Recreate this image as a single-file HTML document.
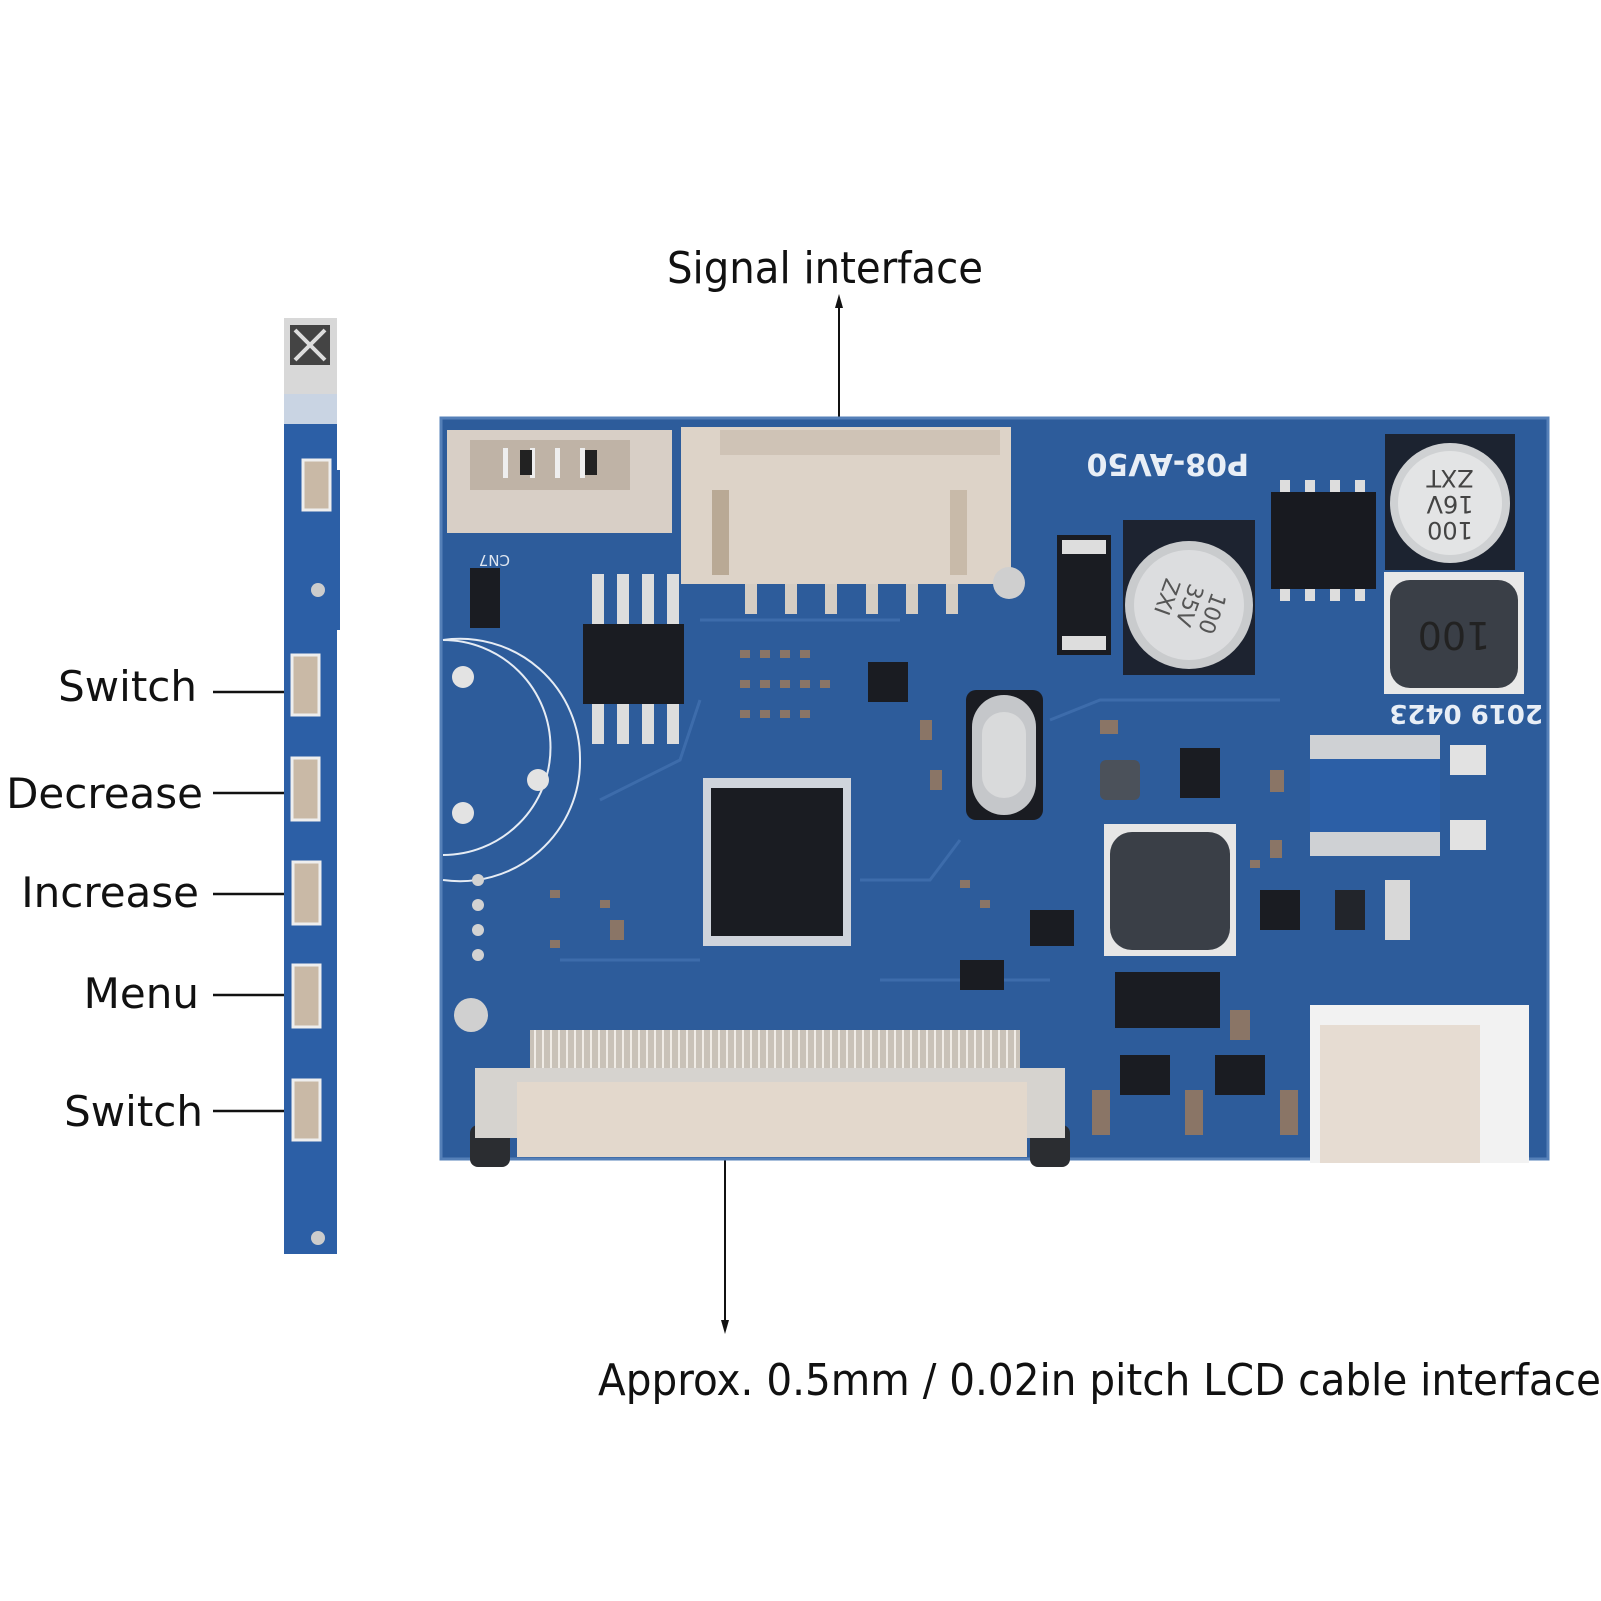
<!DOCTYPE html>
<html><head><meta charset="utf-8"><style>
html,body{margin:0;padding:0;background:#fff;}
svg{display:block;}
text{font-family:"DejaVu Sans","Liberation Sans",sans-serif;}
</style></head><body>
<svg width="1601" height="1601" viewBox="0 0 1601 1601" xmlns="http://www.w3.org/2000/svg">
<rect width="1601" height="1601" fill="#fff"/>

<!-- Labels -->
<text x="667" y="283" font-size="44" fill="#111" textLength="316" lengthAdjust="spacingAndGlyphs">Signal interface</text>
<line x1="839" y1="300" x2="839" y2="546" stroke="#111" stroke-width="2"/>
<polygon points="839,294 835,308 843,308" fill="#111"/>

<line x1="725" y1="1128" x2="725" y2="1326" stroke="#111" stroke-width="2"/>
<polygon points="725,1334 721,1320 729,1320" fill="#111"/>
<text x="598" y="1395" font-size="44" fill="#111" textLength="1003" lengthAdjust="spacingAndGlyphs">Approx. 0.5mm / 0.02in pitch LCD cable interface</text>

<g font-size="42" fill="#111" text-anchor="end">
<text x="197" y="701">Switch</text>
<text x="203" y="808">Decrease</text>
<text x="199" y="907">Increase</text>
<text x="199" y="1008">Menu</text>
<text x="203" y="1126">Switch</text>
</g>
<g stroke="#111" stroke-width="2.5">
<line x1="213" y1="692" x2="284" y2="692"/>
<line x1="213" y1="793" x2="284" y2="793"/>
<line x1="213" y1="894" x2="284" y2="894"/>
<line x1="213" y1="995" x2="284" y2="995"/>
<line x1="213" y1="1111" x2="284" y2="1111"/>
</g>

<!-- Key strip -->
<rect x="284" y="318" width="53" height="76" fill="#d8d8d8"/>
<rect x="290" y="325" width="40" height="40" fill="#444"/>
<path d="M295 330 L325 360 M325 330 L295 360" stroke="#ddd" stroke-width="4"/>
<rect x="284" y="394" width="53" height="30" fill="#c9d4e3"/>
<rect x="284" y="424" width="53" height="830" fill="#2c5fa6"/>
<rect x="330" y="470" width="10" height="160" fill="#2c5fa6"/>
<circle cx="318" cy="590" r="7" fill="#ccc"/>
<circle cx="318" cy="1238" r="7" fill="#ccc"/>
<g fill="#c9b9a6" stroke="#eee" stroke-width="3">
<rect x="303" y="460" width="27" height="50"/>
<rect x="292" y="655" width="27" height="60"/>
<rect x="292" y="758" width="27" height="62"/>
<rect x="293" y="862" width="27" height="62"/>
<rect x="293" y="965" width="27" height="62"/>
<rect x="293" y="1080" width="27" height="60"/>
</g>

<!-- Main board -->
<rect x="441" y="418" width="1107" height="741" fill="#2d5c9b"/>
<rect x="441" y="418" width="1107" height="741" fill="none" stroke="#5580b8" stroke-width="3"/>
<g stroke="#3d6cab" stroke-width="3" fill="none">
<path d="M600 800 L680 760 L700 700"/><path d="M860 880 L930 880 L960 840"/>
<path d="M560 960 L700 960"/><path d="M880 980 L1050 980"/>
<path d="M1050 720 L1100 700 L1280 700"/><path d="M700 620 L900 620"/>
</g>

<!-- CN7 connector -->
<rect x="447" y="430" width="225" height="103" fill="#d8cfc6"/>
<rect x="470" y="440" width="160" height="50" fill="#bfb3a6"/>
<g fill="#eee"><rect x="503" y="448" width="5" height="30"/><rect x="530" y="448" width="5" height="30"/><rect x="555" y="448" width="5" height="30"/><rect x="580" y="448" width="5" height="30"/></g>
<rect x="520" y="450" width="12" height="25" fill="#222"/><rect x="585" y="450" width="12" height="25" fill="#222"/>
<text x="480" y="565" font-size="15" fill="#dfe6f0" transform="rotate(180 495 560)">CN7</text>

<!-- CN2 big connector -->
<rect x="681" y="427" width="330" height="157" fill="#ddd3c8"/>
<rect x="720" y="430" width="280" height="25" fill="#cfc3b6"/>
<rect x="712" y="490" width="17" height="85" fill="#b9a995"/>
<rect x="950" y="490" width="17" height="85" fill="#c8baa9"/>
<g fill="#d5cdc3"><rect x="745" y="584" width="12" height="30"/><rect x="785" y="584" width="12" height="30"/><rect x="825" y="584" width="12" height="30"/><rect x="866" y="584" width="12" height="30"/><rect x="906" y="584" width="12" height="30"/><rect x="946" y="584" width="12" height="30"/></g>
<circle cx="1009" cy="583" r="16" fill="#cfcfcf"/>
<text x="1035" y="476" font-size="30" font-weight="bold" fill="#e8eef6" transform="rotate(180 1142 465)">P08-AV50</text>

<!-- Top right parts -->
<rect x="1385" y="434" width="130" height="136" fill="#1c2330"/>
<circle cx="1450" cy="503" r="60" fill="#cfd1d3"/>
<circle cx="1450" cy="503" r="52" fill="#e3e4e5"/>
<g font-size="24" fill="#444" text-anchor="middle" transform="rotate(180 1450 503)">
<text x="1450" y="484">100</text><text x="1450" y="510">16V</text><text x="1450" y="536">ZXT</text></g>
<rect x="1384" y="572" width="140" height="122" fill="#e8e8e8"/>
<rect x="1390" y="580" width="128" height="108" rx="20" fill="#3a3f47"/>
<text x="1454" y="648" font-size="38" fill="#222" text-anchor="middle" transform="rotate(180 1454 635)">100</text>
<rect x="1271" y="492" width="105" height="97" fill="#181a20"/>
<g fill="#ddd"><rect x="1280" y="480" width="10" height="12"/><rect x="1305" y="480" width="10" height="12"/><rect x="1330" y="480" width="10" height="12"/><rect x="1355" y="480" width="10" height="12"/>
<rect x="1280" y="589" width="10" height="12"/><rect x="1305" y="589" width="10" height="12"/><rect x="1330" y="589" width="10" height="12"/><rect x="1355" y="589" width="10" height="12"/></g>
<rect x="1123" y="520" width="132" height="155" fill="#1d2330"/>
<circle cx="1189" cy="605" r="64" fill="#c9cbcd"/>
<circle cx="1189" cy="605" r="55" fill="#dcdddf"/>
<g font-size="22" fill="#555" text-anchor="middle" transform="rotate(110 1189 605)">
<text x="1189" y="588">100</text><text x="1189" y="612">35V</text><text x="1189" y="636">ZXI</text></g>
<rect x="1057" y="535" width="54" height="120" fill="#1a1c22"/>
<rect x="1062" y="540" width="44" height="14" fill="#ddd"/><rect x="1062" y="636" width="44" height="14" fill="#ddd"/>
<text x="1333" y="727" font-size="26" font-weight="bold" fill="#e8eef6" transform="rotate(180 1438 716)">2019 0423</text>

<!-- Q5 circle -->
<path d="M443 640 A102 102 0 0 1 443 855" fill="none" stroke="#e6ecf4" stroke-width="2"/>
<path d="M443 640 A120 120 0 0 1 580 760 A120 120 0 0 1 443 880" fill="none" stroke="#e6ecf4" stroke-width="2"/>
<circle cx="463" cy="677" r="11" fill="#e3e3e3"/><circle cx="463" cy="813" r="11" fill="#e3e3e3"/><circle cx="538" cy="780" r="11" fill="#e3e3e3"/>
<rect x="470" y="568" width="30" height="60" fill="#1a1c22"/>

<!-- U2 -->
<rect x="583" y="624" width="101" height="80" fill="#1a1c22"/>
<g fill="#ddd"><rect x="592" y="574" width="12" height="50"/><rect x="617" y="574" width="12" height="50"/><rect x="642" y="574" width="12" height="50"/><rect x="667" y="574" width="12" height="50"/>
<rect x="592" y="704" width="12" height="40"/><rect x="617" y="704" width="12" height="40"/><rect x="642" y="704" width="12" height="40"/><rect x="667" y="704" width="12" height="40"/></g>

<!-- small SMD field -->
<g fill="#8a7566">
<rect x="740" y="650" width="10" height="8"/><rect x="760" y="650" width="10" height="8"/><rect x="780" y="650" width="10" height="8"/><rect x="800" y="650" width="10" height="8"/>
<rect x="740" y="680" width="10" height="8"/><rect x="760" y="680" width="10" height="8"/><rect x="780" y="680" width="10" height="8"/><rect x="800" y="680" width="10" height="8"/><rect x="820" y="680" width="10" height="8"/>
<rect x="740" y="710" width="10" height="8"/><rect x="760" y="710" width="10" height="8"/><rect x="780" y="710" width="10" height="8"/><rect x="800" y="710" width="10" height="8"/>
<rect x="550" y="890" width="10" height="8"/><rect x="600" y="900" width="10" height="8"/><rect x="550" y="940" width="10" height="8"/><rect x="610" y="920" width="14" height="20"/>
<rect x="960" y="880" width="10" height="8"/><rect x="980" y="900" width="10" height="8"/><rect x="1250" y="860" width="10" height="8"/><rect x="1270" y="840" width="12" height="18"/>
<rect x="920" y="720" width="12" height="20"/><rect x="930" y="770" width="12" height="20"/><rect x="1270" y="770" width="14" height="22"/><rect x="1100" y="720" width="18" height="14"/>
</g>
<rect x="868" y="662" width="40" height="40" fill="#1a1c22"/>

<!-- QFP main -->
<rect x="703" y="778" width="148" height="168" fill="#cfd4dc"/>
<rect x="711" y="788" width="132" height="148" fill="#1a1c22"/>

<!-- Crystal -->
<rect x="966" y="690" width="77" height="130" rx="10" fill="#1a1c22"/>
<rect x="972" y="695" width="64" height="120" rx="32" fill="#c5c7ca"/>
<rect x="982" y="712" width="44" height="86" rx="22" fill="#d9dadb"/>

<!-- middle right parts -->
<rect x="1104" y="824" width="132" height="132" fill="#e6e6e6"/>
<rect x="1110" y="832" width="120" height="118" rx="22" fill="#3a3f47"/>
<rect x="1115" y="972" width="105" height="56" fill="#1a1c22"/>
<rect x="1100" y="760" width="40" height="40" rx="6" fill="#4b515a"/>
<rect x="1180" y="748" width="40" height="50" fill="#1a1c22"/>
<rect x="1310" y="735" width="130" height="120" fill="#2c5fa6"/>
<rect x="1310" y="735" width="130" height="24" fill="#cfd1d4"/>
<rect x="1310" y="832" width="130" height="24" fill="#cfd1d4"/>
<rect x="1450" y="745" width="36" height="30" fill="#e2e2e2"/>
<rect x="1450" y="820" width="36" height="30" fill="#e2e2e2"/>
<rect x="1335" y="890" width="30" height="40" fill="#22252b"/>
<rect x="1385" y="880" width="25" height="60" fill="#d8d8d8"/>
<rect x="1030" y="910" width="44" height="36" fill="#1a1c22"/>
<rect x="960" y="960" width="44" height="30" fill="#1a1c22"/>
<rect x="1260" y="890" width="40" height="40" fill="#1a1c22"/>

<!-- left holes -->
<g fill="#d2d2d2"><circle cx="478" cy="880" r="6"/><circle cx="478" cy="905" r="6"/><circle cx="478" cy="930" r="6"/><circle cx="478" cy="955" r="6"/></g>
<circle cx="471" cy="1015" r="17" fill="#d0d0d0"/>

<!-- FPC connector CN1 -->
<rect x="530" y="1030" width="490" height="45" fill="#c9c2b8"/>
<g stroke="#f0ece6" stroke-width="2">
<path d="M535 1030 V1075 M543 1030 V1075 M551 1030 V1075 M559 1030 V1075 M567 1030 V1075 M575 1030 V1075 M583 1030 V1075 M591 1030 V1075 M599 1030 V1075 M607 1030 V1075 M615 1030 V1075 M623 1030 V1075 M631 1030 V1075 M639 1030 V1075 M647 1030 V1075 M655 1030 V1075 M663 1030 V1075 M671 1030 V1075 M679 1030 V1075 M687 1030 V1075 M695 1030 V1075 M703 1030 V1075 M711 1030 V1075 M719 1030 V1075 M727 1030 V1075 M735 1030 V1075 M743 1030 V1075 M751 1030 V1075 M759 1030 V1075 M767 1030 V1075 M775 1030 V1075 M783 1030 V1075 M791 1030 V1075 M799 1030 V1075 M807 1030 V1075 M815 1030 V1075 M823 1030 V1075 M831 1030 V1075 M839 1030 V1075 M847 1030 V1075 M855 1030 V1075 M863 1030 V1075 M871 1030 V1075 M879 1030 V1075 M887 1030 V1075 M895 1030 V1075 M903 1030 V1075 M911 1030 V1075 M919 1030 V1075 M927 1030 V1075 M935 1030 V1075 M943 1030 V1075 M951 1030 V1075 M959 1030 V1075 M967 1030 V1075 M975 1030 V1075 M983 1030 V1075 M991 1030 V1075 M999 1030 V1075 M1007 1030 V1075 M1015 1030 V1075"/>
</g>
<rect x="470" y="1125" width="40" height="42" rx="8" fill="#2b2d31"/>
<rect x="1030" y="1125" width="40" height="42" rx="8" fill="#2b2d31"/>
<rect x="475" y="1068" width="590" height="70" fill="#d6d3cf"/>
<rect x="517" y="1082" width="510" height="75" fill="#e3d8cc"/>

<!-- bottom-right parts -->
<rect x="1310" y="1005" width="219" height="158" fill="#f2f2f2"/>
<rect x="1320" y="1025" width="160" height="138" fill="#e6dcd2"/>
<g fill="#1a1c22"><rect x="1120" y="1055" width="50" height="40"/><rect x="1215" y="1055" width="50" height="40"/></g>
<g fill="#8a7566"><rect x="1092" y="1090" width="18" height="45"/><rect x="1185" y="1090" width="18" height="45"/><rect x="1280" y="1090" width="18" height="45"/><rect x="1230" y="1010" width="20" height="30"/></g>
</svg>
</body></html>
